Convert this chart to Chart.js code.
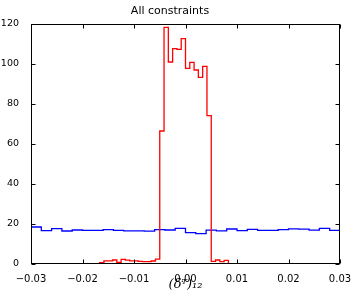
<!DOCTYPE html>
<html>
<head>
<meta charset="utf-8">
<script src="https://cdn.jsdelivr.net/npm/chart.js@4"></script>
<style>
  body { margin: 0; background: #fff; }
</style>
</head>
<body>
<canvas id="myChart" width="353" height="293"></canvas>
<script>
// --- Dados ---
const xRange = [-0.03, 0.03];
const yTicks = [0, 20, 40, 60, 80, 100, 120];

// histograma azul: 30 bins de largura 0.002
const blueCounts = [
    18.5, 16.7, 17.7, 16.5, 17.0, 16.8, 16.8, 17.2, 16.8, 16.6,
    16.6, 16.4, 17.2, 17.0, 17.8, 15.7, 15.2, 16.9, 16.6, 17.5,
    16.7, 17.3, 16.8, 16.8, 17.2, 17.6, 17.4, 16.9, 17.8, 16.8
];

// histograma vermelho: 72 bins de largura 0.000833
const redCounts = [
    0, 0, 0, 0, 0, 0, 0, 0, 0, 0, 0, 0, 0, 0, 0, 0,
    0.7, 1.6, 1.6, 2.0, 0.8, 2.3, 1.9, 1.6, 1.6, 1.3, 1.2, 1.2, 1.5, 2.4,
    66.5, 118.3, 101.0, 107.7, 107.3, 112.7, 97.8, 100.8, 97.0, 93.3, 98.8, 74.2,
    1.3, 2.0, 1.2, 1.8,
    0, 0, 0, 0, 0, 0, 0, 0, 0, 0, 0, 0, 0, 0, 0, 0, 0, 0, 0, 0, 0, 0, 0, 0, 0, 0
];

const chartTitle = 'All constraints';
const xLabel = '(δᵀ)₁₂';

// transforma contagens em pontos de um histograma "step"
function stepPoints(counts) {
    const width = (xRange[1] - xRange[0]) / counts.length;
    const pts = [{ x: xRange[0], y: 0 }];
    counts.forEach((c, i) => {
        pts.push({ x: xRange[0] + i * width, y: c });
    });
    pts.push({ x: xRange[1], y: counts[counts.length - 1] });
    pts.push({ x: xRange[1], y: 0 });
    return pts;
}

// moldura e ticks para dentro, estilo matplotlib
const framePlugin = {
    id: 'frame',
    afterDatasetsDraw(chart) {
        const { ctx, chartArea: a, scales } = chart;
        const L = Math.round(a.left) + 0.5, R = Math.round(a.right) - 0.5;
        const T = Math.round(a.top) + 0.5, B = Math.round(a.bottom) - 0.5;
        ctx.save();
        ctx.strokeStyle = '#000';
        ctx.lineWidth = 1;
        ctx.strokeRect(L, T, R - L, B - T);
        ctx.beginPath();
        scales.x.ticks.forEach(t => {
            const px = Math.round(scales.x.getPixelForValue(t.value)) + 0.5;
            ctx.moveTo(px, B); ctx.lineTo(px, B - 4);
            ctx.moveTo(px, T); ctx.lineTo(px, T + 4);
        });
        scales.y.ticks.forEach(t => {
            const py = Math.round(scales.y.getPixelForValue(t.value)) + 0.5;
            ctx.moveTo(L, py); ctx.lineTo(L + 4, py);
            ctx.moveTo(R, py); ctx.lineTo(R - 4, py);
        });
        ctx.stroke();
        ctx.restore();
    }
};

const chartCanvas = document.getElementById('myChart');

new Chart(chartCanvas, {
    type: 'line',
    data: {
        datasets: [
            {
                data: stepPoints(redCounts),
                borderColor: '#ff0000',
                borderWidth: 1.3,
                stepped: 'before',
                pointRadius: 0,
                fill: false
            },
            {
                data: stepPoints(blueCounts),
                borderColor: '#0000ff',
                borderWidth: 1.3,
                stepped: 'before',
                pointRadius: 0,
                fill: false
            }
        ]
    },
    options: {
        responsive: false,
        animation: false,
        devicePixelRatio: 1,
        layout: { padding: { left: 0, right: 13, top: 0, bottom: 0 } },
        plugins: {
            legend: { display: false },
            tooltip: { enabled: false },
            title: {
                display: true,
                text: chartTitle,
                color: '#000',
                font: { family: 'DejaVu Sans', size: 11, weight: 'normal' },
                padding: { top: 5, bottom: 5.8 }
            }
        },
        scales: {
            x: {
                type: 'linear',
                min: xRange[0],
                max: xRange[1],
                grid: { display: false },
                border: { display: false },
                ticks: {
                    stepSize: 0.01,
                    color: '#000',
                    padding: 1,
                    maxRotation: 0,
                    font: { family: 'DejaVu Sans', size: 10 },
                    callback: v => Number(v).toFixed(2).replace('-', '−')
                },
                title: {
                    display: true,
                    text: xLabel,
                    color: '#000',
                    font: { family: 'DejaVu Serif', size: 13, style: 'italic', lineHeight: 1.1 },
                    padding: { top: 0, bottom: 1 }
                },
                afterFit: scale => { scale.height = 29; }
            },
            y: {
                min: 0,
                max: 120,
                grid: { display: false },
                border: { display: false },
                afterBuildTicks: scale => {
                    scale.ticks = yTicks.map(v => ({ value: v }));
                },
                ticks: {
                    color: '#000',
                    padding: 4,
                    font: { family: 'DejaVu Sans', size: 9.5 }
                },
                afterFit: scale => { scale.width = 31; }
            }
        }
    },
    plugins: [framePlugin]
});
</script>
</body>
</html>
